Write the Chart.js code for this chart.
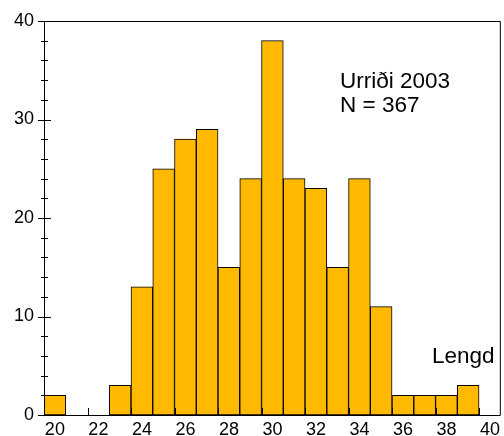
<!DOCTYPE html>
<html>
<head>
<meta charset="utf-8">
<script src="https://cdn.jsdelivr.net/npm/chart.js@4"></script>
<style>
  html, body { margin: 0; padding: 0; background: #fff; }
  #wrap { width: 504px; height: 436px; position: relative; }
</style>
</head>
<body>
<div id="wrap"><canvas id="chart"></canvas></div>
<script>
// length classes (cm), one bar per class
const lengths = [20, 21, 22, 23, 24, 25, 26, 27, 28, 29, 30, 31, 32, 33, 34, 35, 36, 37, 38, 39, 40]
const counts = [2, 0, 0, 3, 13, 25, 28, 29, 15, 24, 38, 24, 23, 15, 24, 11, 2, 2, 2, 3, null]
const yTicks = [0, 10, 20, 30, 40]
const notes = ["Urriði 2003", "N = 367"]
const xTitle = "Lengd"

const font = "'Liberation Sans', Arial, sans-serif"

const framePlugin = {
    id: "frame",
    afterDraw(chart) {
        const ctx = chart.ctx
        const a = chart.chartArea
        const x = chart.scales.x
        const y = chart.scales.y
        ctx.save()
        ctx.strokeStyle = "#000"
        ctx.lineWidth = 1
        ctx.beginPath()
        // box
        ctx.moveTo(a.left + 0.5, a.bottom + 0.5)
        ctx.lineTo(a.left + 0.5, a.top + 0.5)
        ctx.lineTo(a.right - 0.5, a.top + 0.5)
        ctx.lineTo(a.right - 0.5, a.bottom + 0.5)
        ctx.lineTo(a.left + 0.5, a.bottom + 0.5)
        // y ticks, crossing the axis
        for (let v = 0; v <= 40; v += 2) {
            const py = Math.round(y.getPixelForValue(v)) + 0.5
            if (v % 10 === 0) {
                ctx.moveTo(a.left - 6, py)
                ctx.lineTo(a.left + 7, py)
            } else {
                ctx.moveTo(a.left - 3, py)
                ctx.lineTo(a.left + 4, py)
            }
        }
        // x ticks, inward at class edges
        const half = (x.getPixelForValue(1) - x.getPixelForValue(0)) / 2
        lengths.forEach((l, i) => {
            if (l % 2 !== 0) return
            const px = Math.round(x.getPixelForValue(i) - half) + 0.5
            ctx.moveTo(px, a.bottom)
            ctx.lineTo(px, a.bottom - 7)
        })
        ctx.stroke()

        ctx.fillStyle = "#000"
        ctx.font = "22.5px " + font
        ctx.textBaseline = "alphabetic"
        ctx.textAlign = "left"
        ctx.fillText(notes[0], 340, 88)
        ctx.fillText(notes[1], 340, 112)
        ctx.fillText(xTitle, 432, 363)
        ctx.restore()
    }
}

new Chart(document.getElementById("chart"), {
    type: "bar",
    data: {
        labels: lengths.map(String),
        datasets: [{
            data: counts,
            backgroundColor: "rgb(255, 185, 0)",
            borderColor: "#000",
            borderWidth: 1,
            borderSkipped: false,
            categoryPercentage: 1,
            barPercentage: 1
        }]
    },
    options: {
        responsive: true,
        maintainAspectRatio: false,
        animation: false,
        layout: { padding: { top: 21, right: 2, left: 0, bottom: 0 } },
        plugins: {
            legend: { display: false },
            tooltip: { enabled: false }
        },
        scales: {
            x: {
                grid: { display: false, drawTicks: false },
                border: { display: false },
                ticks: {
                    autoSkip: false,
                    maxRotation: 0,
                    padding: 4,
                    color: "#000",
                    font: { family: font, size: 18 },
                    callback: (v, i) => lengths[i] % 2 === 0 ? String(lengths[i]) : ""
                },
                afterFit: s => { s.height = 21 }
            },
            y: {
                min: 0,
                max: 40,
                afterBuildTicks: s => { s.ticks = yTicks.map(v => ({ value: v })) },
                grid: { display: false, drawTicks: false },
                border: { display: false },
                ticks: {
                    padding: 10,
                    color: "#000",
                    font: { family: font, size: 18 }
                },
                afterFit: s => { s.width = 44 }
            }
        }
    },
    plugins: [framePlugin]
})
</script>
</body>
</html>
